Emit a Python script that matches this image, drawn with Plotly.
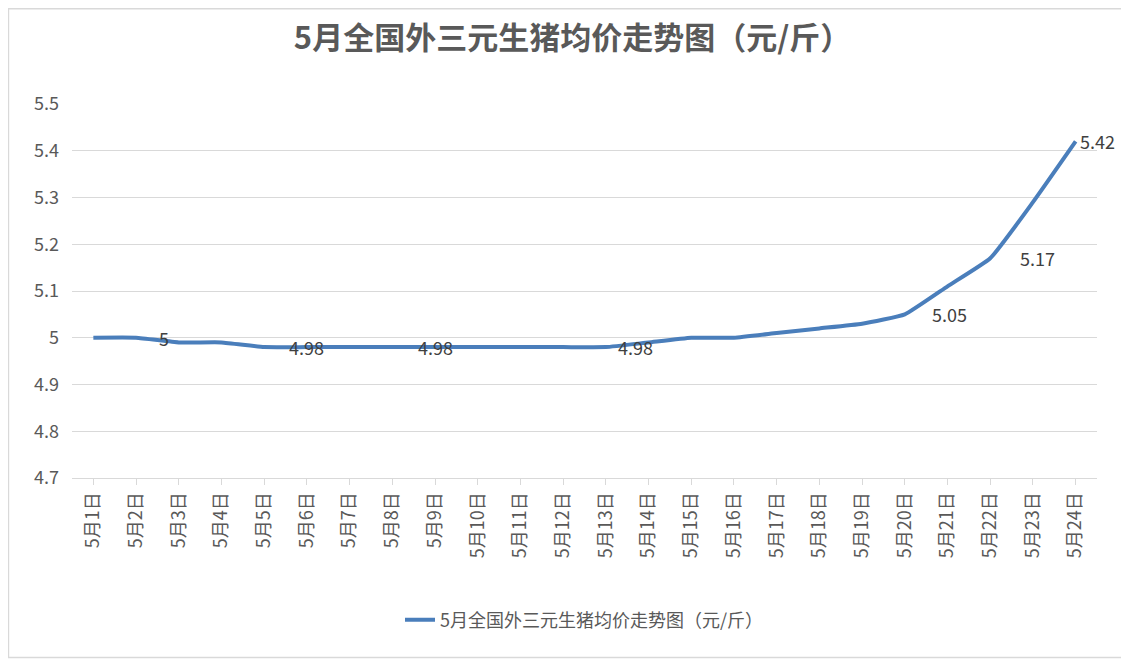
import plotly.graph_objects as go

days = [f"5月{i}日" for i in range(1, 25)]
prices = [5.00, 5.00, 4.99, 4.99, 4.98, 4.98, 4.98, 4.98, 4.98, 4.98, 4.98, 4.98,
          4.98, 4.99, 5.00, 5.00, 5.01, 5.02, 5.03, 5.05, 5.11, 5.17, 5.29, 5.42]
label_idx = [1, 5, 8, 12, 19, 21, 23]
label_text = ["5", "4.98", "4.98", "4.98", "5.05", "5.17", "5.42"]
label_dx = [28, 0, 0, 30, 45, 47, 22]
title = "5月全国外三元生猪均价走势图（元/斤）"
font = "Noto Sans CJK SC"

fig = go.Figure(go.Scatter(x=days, y=prices, mode="lines", name=title,
                           line=dict(color="#4a7ebb", width=4, shape="spline", smoothing=0.4)))
for i, t, dx in zip(label_idx, label_text, label_dx):
    fig.add_annotation(x=days[i], y=prices[i], text=t, showarrow=False, xshift=dx,
                       font=dict(size=18, color="#404040", family=font))
fig.update_layout(
    width=1129, height=659, paper_bgcolor="white", plot_bgcolor="white",
    margin=dict(l=64, r=40, t=96, b=189),
    title=dict(text=f"<b>{title}</b>", x=0.5, y=0.955, xanchor="center", yanchor="middle",
               font=dict(size=31, color="#595959", family=font)),
    font=dict(family=font, color="#595959", size=17),
    showlegend=True,
    legend=dict(orientation="h", x=0.5, xanchor="center", y=-0.38, yanchor="middle",
                font=dict(size=18, color="#595959")),
    shapes=[dict(type="rect", xref="paper", yref="paper", x0=-0.062, x1=1.035, y0=-0.48, y1=1.255,
                 line=dict(color="#d9d9d9", width=1.5))],
)
fig.update_xaxes(tickangle=-90, showgrid=False, showline=True, linecolor="#d9d9d9",
                 ticks="outside", tickcolor="#d9d9d9", ticklen=6, range=[-0.5, 23.5],
                 tickfont=dict(size=18))
fig.update_yaxes(range=[4.7, 5.5], dtick=0.1, gridcolor="#d9d9d9",
                 zeroline=False, tickfont=dict(size=18), ticklabelstandoff=12)
fig.write_html("out.html")
